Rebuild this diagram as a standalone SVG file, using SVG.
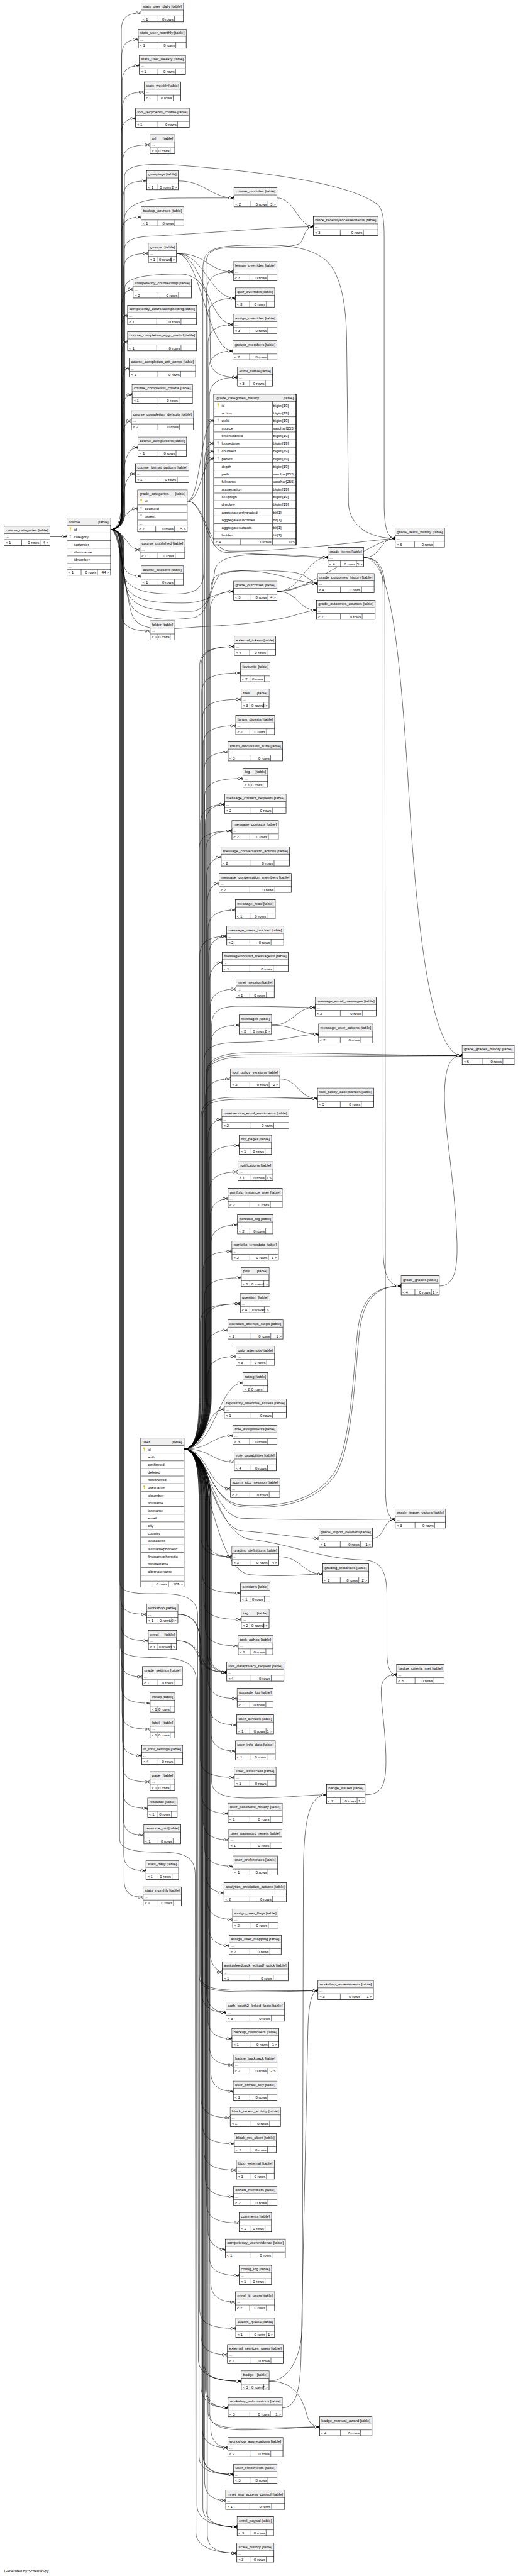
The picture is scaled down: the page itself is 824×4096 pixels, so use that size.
<svg xmlns="http://www.w3.org/2000/svg" xmlns:xlink="http://www.w3.org/1999/xlink" width="824" height="4096" viewBox="0 0 824 4096">
<style>
text{font-family:"Liberation Sans",Arial,Helvetica,sans-serif;font-size:11px;fill:#000}
.r{text-anchor:end}
.bx{fill:#fff;stroke:#000;stroke-width:1.3}
.big{stroke-width:2.6}
.hd{fill:#efefef}
.ln{fill:none;stroke:#000;stroke-width:1}
.e{fill:none;stroke:#000;stroke-width:1;marker-end:url(#m)}
</style>
<defs>
<marker id="m" markerUnits="userSpaceOnUse" markerWidth="30" markerHeight="16" refX="26" refY="8" orient="auto" overflow="visible">
<path d="M17.5 8L26 3.8M17.5 8L26 8M17.5 8L26 12.2" fill="none" stroke="#000" stroke-width="1.1"/>
<circle cx="14" cy="8" r="3.3" fill="#fff" stroke="#000" stroke-width="1.1"/>
</marker>
<g id="kp"><circle cy="-2" r="2.6" fill="#e6c700"/><rect x="-.8" y="-.5" width="1.6" height="6" fill="#e6c700"/></g>
<g id="kf"><circle cy="-2" r="2.6" fill="#bbb"/><rect x="-.8" y="-.5" width="1.6" height="6" fill="#bbb"/></g>
</defs>
<rect width="824" height="4096" fill="#fff"/>
<g transform="scale(.55154 .55172)">
<g id="connectors">
<path class="e" d="M319 1526C338 1526 350 1512 350 1480L350 87.5C350 52.5 365 37.5 407 37.5"/>
<path class="e" d="M319 1526C338 1526 351 1512 351 1480L351 163.5C351 128.5 366 113.5 399 113.5"/>
<path class="e" d="M319 1526C338 1526 352 1512 352 1480L352 239.5C352 204.5 367 189.5 402 189.5"/>
<path class="e" d="M319 1526C338 1526 353 1512 353 1480L353 315.5C353 280.5 368 265.5 416 265.5"/>
<path class="e" d="M319 1526C338 1526 349 1512 349 1480L349 391.5C349 356.5 364 341.5 391 341.5"/>
<path class="e" d="M319 1526C338 1526 354 1512 354 1480L354 467.5C354 432.5 369 417.5 433 417.5"/>
<path class="e" d="M319 1526C338 1526 355 1512 355 1480L355 571.5C355 536.5 370 521.5 423 521.5"/>
<path class="e" d="M319 1526C338 1526 350 1512 350 1480L350 675.5C350 640.5 365 625.5 407 625.5"/>
<path class="e" d="M319 1526C338 1526 356 1512 356 1480L356 780.5C356 745.5 371 730.5 428 730.5"/>
<path class="e" d="M319 1526C338 1526 351 1512 351 1480L351 883.5C351 848.5 366 833.5 384 833.5"/>
<path class="e" d="M319 1526C338 1526 349 1512 349 1480L349 959.5C349 924.5 356 909.5 368 909.5"/>
<path class="e" d="M319 1526C338 1526 350 1512 350 1480L350 1035.5C350 1000.5 357 985.5 368 985.5"/>
<path class="e" d="M319 1526C338 1526 352 1512 352 1480L352 1111.5C352 1076.5 360 1061.5 373 1061.5"/>
<path class="e" d="M319 1526C338 1526 353 1512 353 1480L353 1187.5C353 1152.5 365 1137.5 381 1137.5"/>
<path class="e" d="M319 1526C338 1526 354 1512 354 1480L354 1263.5C354 1228.5 365 1213.5 379 1213.5"/>
<path class="e" d="M319 1526C345 1526 352 1480 354 1400C356 1320 370 1289.5 398 1289.5"/>
<path class="e" d="M319 1526C345 1526 355 1490 356 1440C358 1385 372 1365.5 391 1365.5"/>
<path class="e" d="M319 1526C350 1526 355 1466 397 1466"/>
<path class="e" d="M319 1526C360 1526 365 1584.5 404 1584.5"/>
<path class="e" d="M319 1526C350 1526 355 1600 358 1630C361 1652 380 1660.5 407 1660.5"/>
<path class="e" d="M319 1526C345 1526 352 1560 352 1620L352 1770C352 1800 370 1818.5 433 1818.5"/>
<path class="e" d="M319 1526C338 1526 348 1540 348 1572L348 4602.5C348 4637.5 363 4652.5 423 4652.5"/>
<path class="e" d="M319 1526C338 1526 349 1540 349 1572L349 4678.5C349 4713.5 364 4728.5 428 4728.5"/>
<path class="e" d="M319 1526C338 1526 350 1540 350 1572L350 4782.5C350 4817.5 365 4832.5 411 4832.5"/>
<path class="e" d="M319 1526C338 1526 351 1540 351 1572L351 4858.5C351 4893.5 366 4908.5 433 4908.5"/>
<path class="e" d="M319 1526C338 1526 352 1540 352 1572L352 4933.5C352 4968.5 367 4983.5 433 4983.5"/>
<path class="e" d="M319 1526C338 1526 353 1540 353 1572L353 5009.5C353 5044.5 368 5059.5 409 5059.5"/>
<path class="e" d="M319 1526C338 1526 354 1540 354 1572L354 5085.5C354 5120.5 369 5135.5 433 5135.5"/>
<path class="e" d="M319 1526C338 1526 355 1540 355 1572L355 5161.5C355 5196.5 370 5211.5 426 5211.5"/>
<path class="e" d="M319 1526C338 1526 356 1540 356 1572L356 5238.5C356 5273.5 371 5288.5 415 5288.5"/>
<path class="e" d="M319 1526C338 1526 357 1540 357 1572L357 5341.5C357 5376.5 372 5391.5 421 5391.5"/>
<path class="e" d="M319 1526C338 1526 358 1540 358 1572L358 5417.5C358 5452.5 373 5467.5 413 5467.5"/>
<path class="e" d="M319 1526C338 1526 357 1512 357 1480L357 640C357 585 420 572 500 571C580 570.5 640 570.5 675 570.5"/>
<path class="e" d="M319 1526C338 1526 358 1512 358 1480L358 725C358 692 380 682 450 680C600 672 800 653.5 904 653.5"/>
<path class="e" d="M319 1526C338 1526 359 1512 359 1480L359 510C359 480 400 470 500 475C700 490 1000 520 1090 590C1108 610 1108 650 1108 700L1108 1450C1108 1530 1120 1551.5 1140 1551.5"/>
<path class="e" d="M319 1526C340 1526 345 1560 350 1640C360 1700 420 1712 500 1712C560 1712 585 1700 588 1650L590 1360C592 1320 600 1300 617 1300"/>
<path class="e" d="M319 1526C345 1526 350 1600 360 1680C375 1735 450 1738 530 1738C600 1738 620 1704.5 674 1704.5"/>
<path class="e" d="M319 1526C345 1526 350 1620 365 1700C380 1755 450 1762 550 1762C600 1762 612 1700 620 1640C635 1600 700 1596 800 1598C880 1600 920 1606.5 946 1606.5"/>
<path class="e" d="M319 1526C345 1526 352 1640 372 1730C390 1790 480 1790 560 1780C600 1772 605 1700 630 1660C660 1640 760 1640 850 1650C890 1658 900 1681.5 916 1681.5"/>
<path class="e" d="M319 1526C345 1526 354 1680 380 1770C400 1830 500 1810 600 1805C700 1800 800 1790 860 1770C890 1762 900 1758.5 913 1758.5"/>
<path class="e" d="M319 1526C338 1526 360 1512 360 1480L360 830C360 800 420 790 520 790C570 790 600 830 605 900L607 1040C608 1075 640 1087.5 685 1087.5"/>
<path class="e" d="M319 1526C338 1526 346 1540 346 1572L346 4560C346 4588 380 4594 450 4593C520 4592 566 4600 570 4650L572 6800C573 6845 620 6862.5 696 6862.5"/>
<path class="e" d="M319 1526C338 1526 347 1540 347 1572L347 4745C347 4770 380 4777 450 4777C520 4777 564 4790 566 4840L568 7220C569 7265 620 7282.5 684 7282.5"/>
<path class="e" d="M319 1526C338 1526 345 1540 345 1572L345 5300C345 5328 380 5338 460 5338C530 5338 561 5350 563 5400L565 7300C566 7340 620 7358.5 683 7358.5"/>
<path class="e" d="M144 1547H193"/>
<path class="e" d="M540 1444C578 1444 578 1212 617 1212"/>
<path class="e" d="M540 1444C580 1444 582 1322 617 1322"/>
<path class="e" d="M540 1444C590 1444 595 1590 650 1592C750 1596 880 1606.5 946 1606.5"/>
<path class="e" d="M540 1444C592 1444 598 1585 660 1588C800 1592 1050 1560 1140 1551.5"/>
<path class="e" d="M799 1704.5C860 1704.5 860 1681.5 916 1681.5"/>
<path class="e" d="M799 1704.5C860 1704.5 860 1758.5 913 1758.5"/>
<path class="e" d="M799 1704.5C870 1704.5 880 1606.5 946 1606.5"/>
<path class="e" d="M799 1704.5C900 1704.5 1060 1560 1140 1551.5"/>
<path class="e" d="M1049 1607C1100 1607 1095 1551.5 1140 1551.5"/>
<path class="e" d="M1049 1607C1090 1607 1105 1640 1105 1700L1105 3600C1105 3670 1120 3706.5 1157 3706.5"/>
<path class="e" d="M1049 1607C1094 1607 1110 1640 1110 1700L1112 4300C1113 4350 1120 4378.5 1140 4378.5"/>
<path class="e" d="M1049 1607C1120 1607 1150 1800 1180 2300C1210 2800 1260 3042.5 1333 3042.5"/>
<path class="e" d="M1267 3706.5C1310 3706.5 1320 3660 1318 3580C1312 3400 1280 3250 1282 3150C1284 3070 1300 3042.5 1333 3042.5"/>
<path class="e" d="M1074 4433.5C1110 4433.5 1105 4378.5 1140 4378.5"/>
<path class="e" d="M514 521.5C590 521.5 610 570.5 675 570.5"/>
<path class="e" d="M799 570.5C850 570.5 860 653.5 904 653.5"/>
<path class="e" d="M509 730.5C600 730.5 600 783.5 673 783.5"/>
<path class="e" d="M509 730.5C590 730.5 605 859.5 679 859.5"/>
<path class="e" d="M509 730.5C585 730.5 600 935.5 673 935.5"/>
<path class="e" d="M509 730.5C580 730.5 595 1011.5 672 1011.5"/>
<path class="e" d="M783 2954.5C850 2954.5 850 2903.5 909 2903.5"/>
<path class="e" d="M783 2954.5C850 2954.5 860 2980.5 919 2980.5"/>
<path class="e" d="M807 3109.5C860 3109.5 860 3165.5 916 3165.5"/>
<path class="e" d="M804 4486.5C870 4486.5 870 4536.5 931 4536.5"/>
<path class="e" d="M776 6862.5C830 6862.5 870 6800 872 6700L875 5400C876 5250 890 5172.5 942 5172.5"/>
<path class="e" d="M776 6862.5C840 6862.5 870 6900 885 6960C892 6985 905 6994.5 922 6994.5"/>
<path class="e" d="M1053 5172.5C1100 5172.5 1115 5150 1113 5060C1110 4950 1090 4870 1105 4845C1115 4830 1128 4826.5 1144 4826.5"/>
<path class="e" d="M814 6939.5C850 6939.5 865 6900 868 6800L888 5850C890 5770 900 5737.5 917 5737.5"/>
<path class="e" d="M513 4652.5C560 4652.5 575 4680 578 4740L580 6880C581 6920 610 6939.5 658 6939.5"/>
<path class="e" d="M513 4652.5C562 4652.5 577 4690 580 4750L583 7000C584 7040 615 7054.5 657 7054.5"/>
<path class="e" d="M509 4728.5C560 4728.5 582 4760 584 4820L586 7080C587 7115 620 7131.5 674 7131.5"/>
<path class="e" d="M509 4728.5C558 4728.5 580 4765 582 4830L585 7230C586 7265 625 7282.5 684 7282.5"/>
<path class="e" d="M531 4176C565 4176 596 4116 596 4026L596 838.5C596 801.5 621 783.5 673 783.5"/>
<path class="e" d="M531 4176C565 4176 598 4116 598 4026L598 914.5C598 877.5 623 859.5 679 859.5"/>
<path class="e" d="M531 4176C565 4176 600 4116 600 4026L600 990.5C600 953.5 625 935.5 673 935.5"/>
<path class="e" d="M531 4176C565 4176 602 4116 602 4026L602 1066.5C602 1029.5 627 1011.5 672 1011.5"/>
<path class="e" d="M531 4176C565 4176 604 4116 604 4026L604 1142.5C604 1105.5 629 1087.5 685 1087.5"/>
<path class="e" d="M531 4176C565 4176 590 4116 590 4026L590 1333C590 1296 600 1278 617 1278"/>
<path class="e" d="M531 4176C565 4176 594 4116 594 4026L594 765C594 728 610 716 660 714C760 712 850 716 866 700C878 688 878 653.5 904 653.5"/>
<path class="e" d="M531 4176C565 4176 606 4116 606 4026L606 1759.5C606 1722.5 631 1704.5 674 1704.5"/>
<path class="e" d="M531 4176C565 4176 608 4116 608 4026L608 1700C608 1660 630 1645 700 1645C800 1645 860 1681.5 916 1681.5"/>
<path class="e" d="M531 4176C565 4176 585 4116 585 4026L585 780C585 730 600 712 680 708C800 702 900 705 950 760C990 810 1000 900 1000 1000L1005 1450C1008 1520 1070 1551.5 1140 1551.5"/>
<path class="e" d="M531 4176C565 4176 576 4116 576 4026L576 1918.5C576 1881.5 601 1863.5 676 1863.5"/>
<path class="e" d="M531 4176C565 4176 580 4116 580 4026L580 1918.5C580 1881.5 605 1863.5 676 1863.5"/>
<path class="e" d="M531 4176C565 4176 582 4116 582 4026L582 1994.5C582 1957.5 607 1939.5 694 1939.5"/>
<path class="e" d="M531 4176C565 4176 584 4116 584 4026L584 2070.5C584 2033.5 609 2015.5 696 2015.5"/>
<path class="e" d="M531 4176C565 4176 586 4116 586 4026L586 2146.5C586 2109.5 611 2091.5 680 2091.5"/>
<path class="e" d="M531 4176C565 4176 588 4116 588 4026L588 2222.5C588 2185.5 613 2167.5 658 2167.5"/>
<path class="e" d="M531 4176C565 4176 590 4116 590 4026L590 2298.5C590 2261.5 615 2243.5 701 2243.5"/>
<path class="e" d="M531 4176C565 4176 578 4116 578 4026L578 2373.5C578 2336.5 603 2318.5 648 2318.5"/>
<path class="e" d="M531 4176C565 4176 592 4116 592 4026L592 2373.5C592 2336.5 617 2318.5 648 2318.5"/>
<path class="e" d="M531 4176C565 4176 574 4116 574 4026L574 2449.5C574 2412.5 599 2394.5 669 2394.5"/>
<path class="e" d="M531 4176C565 4176 594 4116 594 4026L594 2449.5C594 2412.5 619 2394.5 669 2394.5"/>
<path class="e" d="M531 4176C565 4176 596 4116 596 4026L596 2525.5C596 2488.5 621 2470.5 638 2470.5"/>
<path class="e" d="M531 4176C565 4176 598 4116 598 4026L598 2601.5C598 2564.5 615 2546.5 632 2546.5"/>
<path class="e" d="M531 4176C565 4176 600 4116 600 4026L600 2677.5C600 2640.5 625 2622.5 679 2622.5"/>
<path class="e" d="M531 4176C565 4176 576 4116 576 4026L576 2753.5C576 2716.5 601 2698.5 654 2698.5"/>
<path class="e" d="M531 4176C565 4176 602 4116 602 4026L602 2753.5C602 2716.5 627 2698.5 654 2698.5"/>
<path class="e" d="M531 4176C565 4176 604 4116 604 4026L604 2829.5C604 2792.5 625 2774.5 641 2774.5"/>
<path class="e" d="M531 4176C565 4176 606 4116 606 4026L606 2905.5C606 2868.5 631 2850.5 681 2850.5"/>
<path class="e" d="M531 4176C565 4176 608 4116 608 4026L608 3009.5C608 2972.5 633 2954.5 690 2954.5"/>
<path class="e" d="M531 4176C565 4176 610 4116 610 4026L610 2960C610 2915 630 2900 690 2900C790 2900 860 2903.5 909 2903.5"/>
<path class="e" d="M531 4176C565 4176 588 4116 588 4026L588 3060C588 3015 620 3004 700 3004C800 3004 870 2980.5 919 2980.5"/>
<path class="e" d="M531 4176C565 4176 592 4116 592 4026L592 3164.5C592 3127.5 617 3109.5 665 3109.5"/>
<path class="e" d="M531 4176C565 4176 580 4116 580 4026L580 3220C580 3175 610 3162 690 3162C800 3162 860 3165.5 916 3165.5"/>
<path class="e" d="M531 4176C565 4176 584 4116 584 4026L584 3220C584 3180 615 3168 700 3168C800 3168 870 3165.5 916 3165.5"/>
<path class="e" d="M531 4176C565 4176 594 4116 594 4026L594 3100C594 3060 620 3034 720 3034C900 3034 1200 3042.5 1333 3042.5"/>
<path class="e" d="M531 4176C565 4176 596 4116 596 4026L596 3100C596 3062 622 3040 720 3040C900 3040 1200 3042.5 1333 3042.5"/>
<path class="e" d="M531 4176C565 4176 598 4116 598 4026L598 3100C598 3066 624 3046 720 3046C900 3046 1200 3042.5 1333 3042.5"/>
<path class="e" d="M531 4176C565 4176 600 4116 600 4026L600 3281.5C600 3244.5 620 3226.5 640 3226.5"/>
<path class="e" d="M531 4176C565 4176 602 4116 602 4026L602 3356.5C602 3319.5 627 3301.5 690 3301.5"/>
<path class="e" d="M531 4176C565 4176 604 4116 604 4026L604 3432.5C604 3395.5 629 3377.5 686 3377.5"/>
<path class="e" d="M531 4176C565 4176 606 4116 606 4026L606 3509.5C606 3472.5 631 3454.5 658 3454.5"/>
<path class="e" d="M531 4176C565 4176 608 4116 608 4026L608 3585.5C608 3548.5 633 3530.5 685 3530.5"/>
<path class="e" d="M531 4176C565 4176 586 4116 586 4026L586 3661.5C586 3624.5 611 3606.5 669 3606.5"/>
<path class="e" d="M531 4176C565 4176 590 4116 590 4026L590 3737.5C590 3700.5 615 3682.5 696 3682.5"/>
<path class="e" d="M531 4176C600 4176 600 4332 700 4338C800 4344 900 4330 960 4250C1010 4180 1020 3950 1030 3850C1040 3740 1080 3706.5 1157 3706.5"/>
<path class="e" d="M531 4176C602 4176 604 4338 700 4343C802 4349 904 4335 965 4254C1015 4184 1025 3954 1035 3854C1045 3745 1083 3706.5 1157 3706.5"/>
<path class="e" d="M531 4176C565 4176 578 4116 578 4026L578 3812.5C578 3775.5 603 3757.5 693 3757.5"/>
<path class="e" d="M531 4176C565 4176 592 4116 592 4026L592 3812.5C592 3775.5 617 3757.5 693 3757.5"/>
<path class="e" d="M531 4176C565 4176 596 4116 596 4026L596 3888.5C596 3851.5 621 3833.5 657 3833.5"/>
<path class="e" d="M531 4176C565 4176 600 4116 600 4026L600 3964.5C600 3927.5 625 3909.5 681 3909.5"/>
<path class="e" d="M531 4176C620 4176 630 3985.5 701 3985.5"/>
<path class="e" d="M531 4176C600 4176 590 4061.5 647 4061.5"/>
<path class="e" d="M531 4176C610 4176 610 4137.5 672 4137.5"/>
<path class="e" d="M531 4176C610 4176 610 4213.5 676 4213.5"/>
<path class="e" d="M531 4176C600 4176 600 4290.5 665 4290.5"/>
<path class="e" d="M531 4176C600 4176 610 4372 700 4376C900 4382 1050 4378.5 1140 4378.5"/>
<path class="e" d="M531 4176C600 4176 612 4405 700 4412C800 4420 870 4433.5 920 4433.5"/>
<path class="e" d="M531 4176C565 4176 580 4236 580 4326L580 4431.5C580 4468.5 605 4486.5 669 4486.5"/>
<path class="e" d="M531 4176C565 4176 596 4236 596 4326L596 4431.5C596 4468.5 621 4486.5 669 4486.5"/>
<path class="e" d="M531 4176C600 4176 615 4525 720 4538C820 4546 880 4536.5 931 4536.5"/>
<path class="e" d="M531 4176C565 4176 584 4236 584 4326L584 4536.5C584 4573.5 609 4591.5 694 4591.5"/>
<path class="e" d="M531 4176C565 4176 588 4236 588 4326L588 4612.5C588 4649.5 613 4667.5 696 4667.5"/>
<path class="e" d="M531 4176C565 4176 592 4236 592 4326L592 4688.5C592 4725.5 617 4743.5 687 4743.5"/>
<path class="e" d="M531 4176C565 4176 576 4236 576 4326L576 4764.5C576 4801.5 601 4819.5 654 4819.5"/>
<path class="e" d="M531 4176C565 4176 582 4236 582 4326L582 4764.5C582 4801.5 607 4819.5 654 4819.5"/>
<path class="e" d="M531 4176C565 4176 598 4236 598 4326L598 4764.5C598 4801.5 623 4819.5 654 4819.5"/>
<path class="e" d="M531 4176C565 4176 604 4236 604 4326L604 4764.5C604 4801.5 629 4819.5 654 4819.5"/>
<path class="e" d="M531 4176C600 4176 620 4420 720 4436C850 4452 920 4492 1050 4496C1100 4498 1116 4530 1116 4600L1116 4760C1116 4805 1125 4826.5 1144 4826.5"/>
<path class="e" d="M531 4176C565 4176 600 4236 600 4326L600 4840.5C600 4877.5 625 4895.5 684 4895.5"/>
<path class="e" d="M531 4176C565 4176 604 4236 604 4326L604 4916.5C604 4953.5 629 4971.5 683 4971.5"/>
<path class="e" d="M531 4176C565 4176 608 4236 608 4326L608 4991.5C608 5028.5 633 5046.5 679 5046.5"/>
<path class="e" d="M531 4176C565 4176 578 4236 578 4326L578 5067.5C578 5104.5 603 5122.5 676 5122.5"/>
<path class="e" d="M531 4176C565 4176 610 4236 610 4326L610 5130C610 5168 640 5182 720 5182C820 5182 890 5172.5 942 5172.5"/>
<path class="e" d="M531 4176C565 4176 582 4236 582 4326L582 5171.5C582 5208.5 607 5226.5 658 5226.5"/>
<path class="e" d="M531 4176C565 4176 586 4236 586 4326L586 5247.5C586 5284.5 611 5302.5 660 5302.5"/>
<path class="e" d="M531 4176C565 4176 590 4236 590 4326L590 5323.5C590 5360.5 615 5378.5 672 5378.5"/>
<path class="e" d="M531 4176C565 4176 594 4236 594 4326L594 5400.5C594 5437.5 619 5455.5 646 5455.5"/>
<path class="e" d="M531 4176C565 4176 598 4236 598 4326L598 5476.5C598 5513.5 623 5531.5 671 5531.5"/>
<path class="e" d="M531 4176C565 4176 602 4236 602 4326L602 5552.5C602 5589.5 627 5607.5 661 5607.5"/>
<path class="e" d="M531 4176C565 4176 606 4236 606 4326L606 5628.5C606 5665.5 631 5683.5 641 5683.5"/>
<path class="e" d="M531 4176C565 4176 574 4236 574 4326L574 5690C574 5728 600 5738 680 5740C800 5742 870 5737.5 917 5737.5"/>
<path class="e" d="M531 4176C565 4176 578 4236 578 4326L578 5690C578 5724 604 5734 680 5736C800 5738 870 5737.5 917 5737.5"/>
<path class="e" d="M531 4176C565 4176 582 4236 582 4326L582 5744.5C582 5781.5 607 5799.5 652 5799.5"/>
<path class="e" d="M531 4176C565 4176 596 4236 596 4326L596 5744.5C596 5781.5 621 5799.5 652 5799.5"/>
<path class="e" d="M531 4176C565 4176 600 4236 600 4326L600 5820.5C600 5857.5 625 5875.5 669 5875.5"/>
<path class="e" d="M531 4176C565 4176 604 4236 604 4326L604 5896.5C604 5933.5 629 5951.5 673 5951.5"/>
<path class="e" d="M531 4176C565 4176 608 4236 608 4326L608 5972.5C608 6009.5 633 6027.5 673 6027.5"/>
<path class="e" d="M531 4176C565 4176 580 4236 580 4326L580 6048.5C580 6085.5 605 6103.5 664 6103.5"/>
<path class="e" d="M531 4176C565 4176 584 4236 584 4326L584 6123.5C584 6160.5 609 6178.5 676 6178.5"/>
<path class="e" d="M531 4176C565 4176 588 4236 588 4326L588 6199.5C588 6236.5 613 6254.5 682 6254.5"/>
<path class="e" d="M531 4176C565 4176 592 4236 592 4326L592 6275.5C592 6312.5 617 6330.5 674 6330.5"/>
<path class="e" d="M531 4176C565 4176 596 4236 596 4326L596 6351.5C596 6388.5 621 6406.5 690 6406.5"/>
<path class="e" d="M531 4176C565 4176 600 4236 600 4326L600 6427.5C600 6464.5 625 6482.5 650 6482.5"/>
<path class="e" d="M531 4176C565 4176 604 4236 604 4326L604 6503.5C604 6540.5 629 6558.5 690 6558.5"/>
<path class="e" d="M531 4176C565 4176 608 4236 608 4326L608 6579.5C608 6616.5 633 6634.5 679 6634.5"/>
<path class="e" d="M531 4176C565 4176 576 4236 576 4326L576 6655.5C576 6692.5 601 6710.5 680 6710.5"/>
<path class="e" d="M531 4176C565 4176 580 4236 580 4326L580 6731.5C580 6768.5 605 6786.5 656 6786.5"/>
<path class="e" d="M531 4176C565 4176 584 4236 584 4326L584 6807.5C584 6844.5 609 6862.5 696 6862.5"/>
<path class="e" d="M531 4176C565 4176 588 4236 588 4326L588 6807.5C588 6844.5 613 6862.5 696 6862.5"/>
<path class="e" d="M531 4176C565 4176 592 4236 592 4326L592 6884.5C592 6921.5 617 6939.5 658 6939.5"/>
<path class="e" d="M531 4176C565 4176 596 4236 596 4326L596 6884.5C596 6921.5 621 6939.5 658 6939.5"/>
<path class="e" d="M531 4176C565 4176 600 4236 600 4326L600 6950C600 6985 630 6998 700 6998C800 6998 870 6994.5 922 6994.5"/>
<path class="e" d="M531 4176C565 4176 604 4236 604 4326L604 6950C604 6990 634 7003 700 7003C800 7003 870 6994.5 922 6994.5"/>
<path class="e" d="M531 4176C565 4176 608 4236 608 4326L608 6999.5C608 7036.5 633 7054.5 657 7054.5"/>
<path class="e" d="M531 4176C565 4176 574 4236 574 4326L574 7076.5C574 7113.5 599 7131.5 674 7131.5"/>
<path class="e" d="M531 4176C565 4176 586 4236 586 4326L586 7076.5C586 7113.5 611 7131.5 674 7131.5"/>
<path class="e" d="M531 4176C565 4176 590 4236 590 4326L590 7151.5C590 7188.5 615 7206.5 651 7206.5"/>
<path class="e" d="M531 4176C565 4176 594 4236 594 4326L594 7227.5C594 7264.5 619 7282.5 684 7282.5"/>
<path class="e" d="M531 4176C565 4176 598 4236 598 4326L598 7303.5C598 7340.5 623 7358.5 683 7358.5"/>
</g>

<g id="course_categories" transform="translate(12 1517)"><rect class="bx" width="132" height="55"/><rect class="hd" x=".7" y=".7" width="130.6" height="20"/><path class="ln" d="M0 21H132M0 38H132M50.5 38V55M103.75 38V55"/><text x="5" y="14.5">course_categories</text><text class="r" x="127" y="14.5">[table]</text><text x="4" y="33">...</text><text x="4" y="51">&lt; 1</text><text class="r" x="100.75" y="51">0 rows</text><text class="r" x="128" y="51">4 &gt;</text></g>

<g id="course" transform="translate(193 1493)"><rect class="bx" width="126" height="165"/><rect class="hd" x=".7" y=".7" width="124.6" height="20"/><path class="ln" d="M0 21H126M0 43H126M0 65H126M0 87H126M0 109H126M0 131H126M0 148H126M41 148V165M88 148V165"/><text x="5" y="14.5">course</text><text class="r" x="120" y="14.5">[table]</text><use href="#kp" x="10" y="31"/><text x="20" y="36">id</text><use href="#kf" x="10" y="53"/><text x="20" y="58">category</text><text x="20" y="80">sortorder</text><text x="20" y="102">shortname</text><text x="20" y="124">idnumber</text><text x="4" y="143">...</text><text x="4" y="160">&lt; 1</text><text class="r" x="85" y="160">0 rows</text><text class="r" x="122" y="160">44 &gt;</text></g>

<g id="stats_user_daily" transform="translate(407 8)"><rect class="bx" width="122" height="55"/><rect class="hd" x=".7" y=".7" width="120.6" height="20"/><path class="ln" d="M0 21H122M0 38H122M45.5 38V55M96 38V55"/><text x="5" y="14.5">stats_user_daily</text><text class="r" x="117" y="14.5">[table]</text><text x="4" y="33">...</text><text x="4" y="51">&lt; 1</text><text class="r" x="93" y="51">0 rows</text></g>
<g id="stats_user_monthly" transform="translate(399 84)"><rect class="bx" width="138" height="55"/><rect class="hd" x=".7" y=".7" width="136.6" height="20"/><path class="ln" d="M0 21H138M0 38H138M53.5 38V55M108 38V55"/><text x="5" y="14.5">stats_user_monthly</text><text class="r" x="133" y="14.5">[table]</text><text x="4" y="33">...</text><text x="4" y="51">&lt; 1</text><text class="r" x="105" y="51">0 rows</text></g>
<g id="stats_user_weekly" transform="translate(402 160)"><rect class="bx" width="133" height="55"/><rect class="hd" x=".7" y=".7" width="131.6" height="20"/><path class="ln" d="M0 21H133M0 38H133M51 38V55M104.5 38V55"/><text x="5" y="14.5">stats_user_weekly</text><text class="r" x="128" y="14.5">[table]</text><text x="4" y="33">...</text><text x="4" y="51">&lt; 1</text><text class="r" x="101.5" y="51">0 rows</text></g>
<g id="stats_weekly" transform="translate(416 236)"><rect class="bx" width="105" height="55"/><rect class="hd" x=".7" y=".7" width="103.6" height="20"/><path class="ln" d="M0 21H105M0 38H105M37 38V55M83.5 38V55"/><text x="5" y="14.5">stats_weekly</text><text class="r" x="100" y="14.5">[table]</text><text x="4" y="33">...</text><text x="4" y="51">&lt; 1</text><text class="r" x="80.5" y="51">0 rows</text></g>
<g id="tool_recyclebin_course" transform="translate(391 312)"><rect class="bx" width="155" height="55"/><rect class="hd" x=".7" y=".7" width="153.6" height="20"/><path class="ln" d="M0 21H155M0 38H155M62 38V55M121 38V55"/><text x="5" y="14.5">tool_recyclebin_course</text><text class="r" x="150" y="14.5">[table]</text><text x="4" y="33">...</text><text x="4" y="51">&lt; 1</text><text class="r" x="118" y="51">0 rows</text></g>
<g id="url" transform="translate(433 388)"><rect class="bx" width="71" height="55"/><rect class="hd" x=".7" y=".7" width="69.6" height="20"/><path class="ln" d="M0 21H71M0 38H71M20 38V55M58 38V55"/><text x="5" y="14.5">url</text><text class="r" x="66" y="14.5">[table]</text><text x="4" y="33">...</text><text x="4" y="51">&lt; 1</text><text class="r" x="56" y="51">0 rows</text></g>
<g id="groupings" transform="translate(423 492)"><rect class="bx" width="91" height="55"/><rect class="hd" x=".7" y=".7" width="89.6" height="20"/><path class="ln" d="M0 21H91M0 38H91M30 38V55M73 38V55"/><text x="5" y="14.5">groupings</text><text class="r" x="86" y="14.5">[table]</text><text x="4" y="33">...</text><text x="4" y="51">&lt; 1</text><text class="r" x="70" y="51">0 rows</text><text class="r" x="87" y="51">2 &gt;</text></g>
<g id="backup_courses" transform="translate(407 596)"><rect class="bx" width="123" height="55"/><rect class="hd" x=".7" y=".7" width="121.6" height="20"/><path class="ln" d="M0 21H123M0 38H123M46 38V55M97 38V55"/><text x="5" y="14.5">backup_courses</text><text class="r" x="118" y="14.5">[table]</text><text x="4" y="33">...</text><text x="4" y="51">&lt; 1</text><text class="r" x="94" y="51">0 rows</text></g>
<g id="groups" transform="translate(428 701)"><rect class="bx" width="81" height="55"/><rect class="hd" x=".7" y=".7" width="79.6" height="20"/><path class="ln" d="M0 21H81M0 38H81M25 38V55M65.5 38V55"/><text x="5" y="14.5">groups</text><text class="r" x="76" y="14.5">[table]</text><text x="4" y="33">...</text><text x="4" y="51">&lt; 1</text><text class="r" x="63" y="51">0 rows</text><text class="r" x="77" y="51">5 &gt;</text></g>
<g id="competency_coursecomp" transform="translate(384 804)"><rect class="bx" width="168" height="55"/><rect class="hd" x=".7" y=".7" width="166.6" height="20"/><path class="ln" d="M0 21H168M0 38H168M68.5 38V55M130.75 38V55"/><text x="5" y="14.5">competency_coursecomp</text><text class="r" x="163" y="14.5">[table]</text><text x="4" y="33">...</text><text x="4" y="51">&lt; 2</text><text class="r" x="127.75" y="51">0 rows</text></g>
<g id="competency_coursecompsetting" transform="translate(368 880)"><rect class="bx" width="199" height="55"/><rect class="hd" x=".7" y=".7" width="197.6" height="20"/><path class="ln" d="M0 21H199M0 38H199M84 38V55M154 38V55"/><text x="5" y="14.5">competency_coursecompsetting</text><text class="r" x="194" y="14.5">[table]</text><text x="4" y="33">...</text><text x="4" y="51">&lt; 1</text><text class="r" x="151" y="51">0 rows</text></g>
<g id="course_completion_aggr_methd" transform="translate(368 956)"><rect class="bx" width="199" height="55"/><rect class="hd" x=".7" y=".7" width="197.6" height="20"/><path class="ln" d="M0 21H199M0 38H199M84 38V55M154 38V55"/><text x="5" y="14.5">course_completion_aggr_methd</text><text class="r" x="194" y="14.5">[table]</text><text x="4" y="33">...</text><text x="4" y="51">&lt; 1</text><text class="r" x="151" y="51">0 rows</text></g>
<g id="course_completion_crit_compl" transform="translate(373 1032)"><rect class="bx" width="191" height="55"/><rect class="hd" x=".7" y=".7" width="189.6" height="20"/><path class="ln" d="M0 21H191M0 38H191M80 38V55M148 38V55"/><text x="5" y="14.5">course_completion_crit_compl</text><text class="r" x="186" y="14.5">[table]</text><text x="4" y="33">...</text><text x="4" y="51">&lt; 1</text><text class="r" x="145" y="51">0 rows</text></g>
<g id="course_completion_criteria" transform="translate(381 1108)"><rect class="bx" width="174" height="55"/><rect class="hd" x=".7" y=".7" width="172.6" height="20"/><path class="ln" d="M0 21H174M0 38H174M71.5 38V55M135.25 38V55"/><text x="5" y="14.5">course_completion_criteria</text><text class="r" x="169" y="14.5">[table]</text><text x="4" y="33">...</text><text x="4" y="51">&lt; 1</text><text class="r" x="132.25" y="51">0 rows</text></g>
<g id="course_completion_defaults" transform="translate(379 1184)"><rect class="bx" width="179" height="55"/><rect class="hd" x=".7" y=".7" width="177.6" height="20"/><path class="ln" d="M0 21H179M0 38H179M74 38V55M139 38V55"/><text x="5" y="14.5">course_completion_defaults</text><text class="r" x="174" y="14.5">[table]</text><text x="4" y="33">...</text><text x="4" y="51">&lt; 2</text><text class="r" x="136" y="51">0 rows</text></g>
<g id="course_completions" transform="translate(398 1260)"><rect class="bx" width="140" height="55"/><rect class="hd" x=".7" y=".7" width="138.6" height="20"/><path class="ln" d="M0 21H140M0 38H140M54.5 38V55M109.75 38V55"/><text x="5" y="14.5">course_completions</text><text class="r" x="135" y="14.5">[table]</text><text x="4" y="33">...</text><text x="4" y="51">&lt; 1</text><text class="r" x="106.75" y="51">0 rows</text></g>
<g id="course_format_options" transform="translate(391 1336)"><rect class="bx" width="154" height="55"/><rect class="hd" x=".7" y=".7" width="152.6" height="20"/><path class="ln" d="M0 21H154M0 38H154M61.5 38V55M120.25 38V55"/><text x="5" y="14.5">course_format_options</text><text class="r" x="149" y="14.5">[table]</text><text x="4" y="33">...</text><text x="4" y="51">&lt; 1</text><text class="r" x="117.25" y="51">0 rows</text></g>
<g id="grade_categories" transform="translate(397 1412)"><rect class="bx" width="143" height="121"/><rect class="hd" x=".7" y=".7" width="141.6" height="20"/><path class="ln" d="M0 21H143M0 43H143M0 65H143M0 87H143M0 104H143M52 104V121M106.5 104V121"/><text x="5" y="14.5">grade_categories</text><text class="r" x="138" y="14.5">[table]</text><use href="#kp" x="10" y="31"/><text x="20" y="36">id</text><use href="#kf" x="10" y="53"/><text x="20" y="58">courseid</text><use href="#kf" x="10" y="75"/><text x="20" y="80">parent</text><text x="4" y="99">...</text><text x="4" y="116">&lt; 2</text><text class="r" x="103.5" y="116">0 rows</text><text class="r" x="139" y="116">5 &gt;</text></g>
<g id="course_published" transform="translate(404 1555)"><rect class="bx" width="129" height="55"/><rect class="hd" x=".7" y=".7" width="127.6" height="20"/><path class="ln" d="M0 21H129M0 38H129M49 38V55M101.5 38V55"/><text x="5" y="14.5">course_published</text><text class="r" x="124" y="14.5">[table]</text><text x="4" y="33">...</text><text x="4" y="51">&lt; 1</text><text class="r" x="98.5" y="51">0 rows</text></g>
<g id="course_sections" transform="translate(407 1631)"><rect class="bx" width="122" height="55"/><rect class="hd" x=".7" y=".7" width="120.6" height="20"/><path class="ln" d="M0 21H122M0 38H122M45.5 38V55M96 38V55"/><text x="5" y="14.5">course_sections</text><text class="r" x="117" y="14.5">[table]</text><text x="4" y="33">...</text><text x="4" y="51">&lt; 1</text><text class="r" x="93" y="51">0 rows</text></g>
<g id="folder" transform="translate(433 1789)"><rect class="bx" width="71" height="55"/><rect class="hd" x=".7" y=".7" width="69.6" height="20"/><path class="ln" d="M0 21H71M0 38H71M20 38V55M58 38V55"/><text x="5" y="14.5">folder</text><text class="r" x="66" y="14.5">[table]</text><text x="4" y="33">...</text><text x="4" y="51">&lt; 1</text><text class="r" x="56" y="51">0 rows</text></g>

<g id="grade_categories_history" transform="translate(617 1136)"><rect class="bx big" width="237" height="434.5"/><rect class="hd" x="1.3" y="1.3" width="234.4" height="19.4"/><path class="ln" d="M0 21H237M0 43H237M0 65H237M0 87H237M0 109H237M0 131H237M0 153H237M0 175H237M0 197H237M0 219H237M0 241H237M0 263H237M0 285H237M0 307H237M0 329H237M0 351H237M0 373H237M0 395H237M0 417H237M169 21V434.5M77 417V434.5"/><text x="7" y="14.5">grade_categories_history</text><text class="r" x="230" y="14.5">[table]</text>
<use href="#kp" x="12" y="31"/><use href="#kf" x="12" y="75"/><use href="#kf" x="12" y="141"/><use href="#kf" x="12" y="163"/><use href="#kf" x="12" y="185"/>
<text x="22" y="36">id</text><text x="22" y="58">action</text><text x="22" y="80">oldid</text><text x="22" y="102">source</text><text x="22" y="124">timemodified</text><text x="22" y="146">loggeduser</text><text x="22" y="168">courseid</text><text x="22" y="190">parent</text><text x="22" y="212">depth</text><text x="22" y="234">path</text><text x="22" y="256">fullname</text><text x="22" y="278">aggregation</text><text x="22" y="300">keephigh</text><text x="22" y="322">droplow</text><text x="22" y="344">aggregateonlygraded</text><text x="22" y="366">aggregateoutcomes</text><text x="22" y="388">aggregatesubcats</text><text x="22" y="410">hidden</text>
<text x="171" y="36">bigint[19]</text><text x="171" y="58">bigint[19]</text><text x="171" y="80">bigint[19]</text><text x="171" y="102">varchar[255]</text><text x="171" y="124">bigint[19]</text><text x="171" y="146">bigint[19]</text><text x="171" y="168">bigint[19]</text><text x="171" y="190">bigint[19]</text><text x="171" y="212">bigint[19]</text><text x="171" y="234">varchar[255]</text><text x="171" y="256">varchar[255]</text><text x="171" y="278">bigint[19]</text><text x="171" y="300">bigint[19]</text><text x="171" y="322">bigint[19]</text><text x="171" y="344">bit[1]</text><text x="171" y="366">bit[1]</text><text x="171" y="388">bit[1]</text><text x="171" y="410">bit[1]</text>
<text x="4" y="429.5">&lt; 4</text><text class="r" x="166" y="429.5">0 rows</text><text class="r" x="233" y="429.5">0 &gt;</text></g>

<g id="course_modules" transform="translate(675 541)"><rect class="bx" width="124" height="55"/><rect class="hd" x=".7" y=".7" width="122.6" height="20"/><path class="ln" d="M0 21H124M0 38H124M46.5 38V55M97.75 38V55"/><text x="5" y="14.5">course_modules</text><text class="r" x="119" y="14.5">[table]</text><text x="4" y="33">...</text><text x="4" y="51">&lt; 2</text><text class="r" x="94.75" y="51">0 rows</text><text class="r" x="120" y="51">3 &gt;</text></g>
<g id="block_recentlyaccesseditems" transform="translate(904 624)"><rect class="bx" width="186" height="55"/><rect class="hd" x=".7" y=".7" width="184.6" height="20"/><path class="ln" d="M0 21H186M0 38H186M77.5 38V55M144.25 38V55"/><text x="5" y="14.5">block_recentlyaccesseditems</text><text class="r" x="181" y="14.5">[table]</text><text x="4" y="33">...</text><text x="4" y="51">&lt; 3</text><text class="r" x="141.25" y="51">0 rows</text></g>
<g id="lesson_overrides" transform="translate(673 754)"><rect class="bx" width="126" height="55"/><rect class="hd" x=".7" y=".7" width="124.6" height="20"/><path class="ln" d="M0 21H126M0 38H126M47.5 38V55M99.25 38V55"/><text x="5" y="14.5">lesson_overrides</text><text class="r" x="121" y="14.5">[table]</text><text x="4" y="33">...</text><text x="4" y="51">&lt; 3</text><text class="r" x="96.25" y="51">0 rows</text></g>
<g id="quiz_overrides" transform="translate(679 830)"><rect class="bx" width="113" height="55"/><rect class="hd" x=".7" y=".7" width="111.6" height="20"/><path class="ln" d="M0 21H113M0 38H113M41 38V55M89.5 38V55"/><text x="5" y="14.5">quiz_overrides</text><text class="r" x="108" y="14.5">[table]</text><text x="4" y="33">...</text><text x="4" y="51">&lt; 3</text><text class="r" x="86.5" y="51">0 rows</text></g>
<g id="assign_overrides" transform="translate(673 906)"><rect class="bx" width="126" height="55"/><rect class="hd" x=".7" y=".7" width="124.6" height="20"/><path class="ln" d="M0 21H126M0 38H126M47.5 38V55M99.25 38V55"/><text x="5" y="14.5">assign_overrides</text><text class="r" x="121" y="14.5">[table]</text><text x="4" y="33">...</text><text x="4" y="51">&lt; 3</text><text class="r" x="96.25" y="51">0 rows</text></g>
<g id="groups_members" transform="translate(672 982)"><rect class="bx" width="127" height="55"/><rect class="hd" x=".7" y=".7" width="125.6" height="20"/><path class="ln" d="M0 21H127M0 38H127M48 38V55M100 38V55"/><text x="5" y="14.5">groups_members</text><text class="r" x="122" y="14.5">[table]</text><text x="4" y="33">...</text><text x="4" y="51">&lt; 2</text><text class="r" x="97" y="51">0 rows</text></g>
<g id="enrol_flatfile" transform="translate(685 1058)"><rect class="bx" width="101" height="55"/><rect class="hd" x=".7" y=".7" width="99.6" height="20"/><path class="ln" d="M0 21H101M0 38H101M35 38V55M80.5 38V55"/><text x="5" y="14.5">enrol_flatfile</text><text class="r" x="96" y="14.5">[table]</text><text x="4" y="33">...</text><text x="4" y="51">&lt; 3</text><text class="r" x="77.5" y="51">0 rows</text></g>
<g id="grade_items_history" transform="translate(1140 1522)"><rect class="bx" width="142" height="55"/><rect class="hd" x=".7" y=".7" width="140.6" height="20"/><path class="ln" d="M0 21H142M0 38H142M55.5 38V55M111.25 38V55"/><text x="5" y="14.5">grade_items_history</text><text class="r" x="137" y="14.5">[table]</text><text x="4" y="33">...</text><text x="4" y="51">&lt; 6</text><text class="r" x="108.25" y="51">0 rows</text></g>
<g id="grade_items" transform="translate(946 1578)"><rect class="bx" width="103" height="55"/><rect class="hd" x=".7" y=".7" width="101.6" height="20"/><path class="ln" d="M0 21H103M0 38H103M36 38V55M82 38V55"/><text x="5" y="14.5">grade_items</text><text class="r" x="98" y="14.5">[table]</text><text x="4" y="33">...</text><text x="4" y="51">&lt; 4</text><text class="r" x="79" y="51">0 rows</text><text class="r" x="99" y="51">5 &gt;</text></g>
<g id="grade_outcomes_history" transform="translate(916 1653)"><rect class="bx" width="163" height="55"/><rect class="hd" x=".7" y=".7" width="161.6" height="20"/><path class="ln" d="M0 21H163M0 38H163M66 38V55M127 38V55"/><text x="5" y="14.5">grade_outcomes_history</text><text class="r" x="158" y="14.5">[table]</text><text x="4" y="33">...</text><text x="4" y="51">&lt; 4</text><text class="r" x="124" y="51">0 rows</text></g>
<g id="grade_outcomes_courses" transform="translate(913 1730)"><rect class="bx" width="169" height="55"/><rect class="hd" x=".7" y=".7" width="167.6" height="20"/><path class="ln" d="M0 21H169M0 38H169M69 38V55M131.5 38V55"/><text x="5" y="14.5">grade_outcomes_courses</text><text class="r" x="164" y="14.5">[table]</text><text x="4" y="33">...</text><text x="4" y="51">&lt; 2</text><text class="r" x="128.5" y="51">0 rows</text></g>
<g id="grade_outcomes" transform="translate(674 1675)"><rect class="bx" width="125" height="55"/><rect class="hd" x=".7" y=".7" width="123.6" height="20"/><path class="ln" d="M0 21H125M0 38H125M47 38V55M98.5 38V55"/><text x="5" y="14.5">grade_outcomes</text><text class="r" x="120" y="14.5">[table]</text><text x="4" y="33">...</text><text x="4" y="51">&lt; 3</text><text class="r" x="95.5" y="51">0 rows</text><text class="r" x="121" y="51">4 &gt;</text></g>
<g id="external_tokens" transform="translate(676 1834)"><rect class="bx" width="119" height="55"/><rect class="hd" x=".7" y=".7" width="117.6" height="20"/><path class="ln" d="M0 21H119M0 38H119M44 38V55M94 38V55"/><text x="5" y="14.5">external_tokens</text><text class="r" x="114" y="14.5">[table]</text><text x="4" y="33">...</text><text x="4" y="51">&lt; 4</text><text class="r" x="91" y="51">0 rows</text></g>
<g id="favourite" transform="translate(694 1910)"><rect class="bx" width="85" height="55"/><rect class="hd" x=".7" y=".7" width="83.6" height="20"/><path class="ln" d="M0 21H85M0 38H85M27 38V55M68.5 38V55"/><text x="5" y="14.5">favourite</text><text class="r" x="80" y="14.5">[table]</text><text x="4" y="33">...</text><text x="4" y="51">&lt; 2</text><text class="r" x="65.5" y="51">0 rows</text></g>
<g id="files" transform="translate(696 1986)"><rect class="bx" width="80" height="55"/><rect class="hd" x=".7" y=".7" width="78.6" height="20"/><path class="ln" d="M0 21H80M0 38H80M24.5 38V55M64.75 38V55"/><text x="5" y="14.5">files</text><text class="r" x="75" y="14.5">[table]</text><text x="4" y="33">...</text><text x="4" y="51">&lt; 3</text><text class="r" x="61.75" y="51">0 rows</text><text class="r" x="76" y="51">3 &gt;</text></g>
<g id="forum_digests" transform="translate(680 2062)"><rect class="bx" width="112" height="55"/><rect class="hd" x=".7" y=".7" width="110.6" height="20"/><path class="ln" d="M0 21H112M0 38H112M40.5 38V55M88.75 38V55"/><text x="5" y="14.5">forum_digests</text><text class="r" x="107" y="14.5">[table]</text><text x="4" y="33">...</text><text x="4" y="51">&lt; 2</text><text class="r" x="85.75" y="51">0 rows</text></g>
<g id="forum_discussion_subs" transform="translate(658 2138)"><rect class="bx" width="157" height="55"/><rect class="hd" x=".7" y=".7" width="155.6" height="20"/><path class="ln" d="M0 21H157M0 38H157M63 38V55M122.5 38V55"/><text x="5" y="14.5">forum_discussion_subs</text><text class="r" x="152" y="14.5">[table]</text><text x="4" y="33">...</text><text x="4" y="51">&lt; 3</text><text class="r" x="119.5" y="51">0 rows</text></g>
<g id="log" transform="translate(701 2214)"><rect class="bx" width="71" height="55"/><rect class="hd" x=".7" y=".7" width="69.6" height="20"/><path class="ln" d="M0 21H71M0 38H71M20 38V55M58 38V55"/><text x="5" y="14.5">log</text><text class="r" x="66" y="14.5">[table]</text><text x="4" y="33">...</text><text x="4" y="51">&lt; 1</text><text class="r" x="56" y="51">0 rows</text></g>
<g id="message_contact_requests" transform="translate(648 2289)"><rect class="bx" width="177" height="55"/><rect class="hd" x=".7" y=".7" width="175.6" height="20"/><path class="ln" d="M0 21H177M0 38H177M73 38V55M137.5 38V55"/><text x="5" y="14.5">message_contact_requests</text><text class="r" x="172" y="14.5">[table]</text><text x="4" y="33">...</text><text x="4" y="51">&lt; 2</text><text class="r" x="134.5" y="51">0 rows</text></g>
<g id="message_contacts" transform="translate(669 2365)"><rect class="bx" width="134" height="55"/><rect class="hd" x=".7" y=".7" width="132.6" height="20"/><path class="ln" d="M0 21H134M0 38H134M51.5 38V55M105.25 38V55"/><text x="5" y="14.5">message_contacts</text><text class="r" x="129" y="14.5">[table]</text><text x="4" y="33">...</text><text x="4" y="51">&lt; 2</text><text class="r" x="102.25" y="51">0 rows</text></g>
<g id="message_conversation_actions" transform="translate(638 2441)"><rect class="bx" width="197" height="55"/><rect class="hd" x=".7" y=".7" width="195.6" height="20"/><path class="ln" d="M0 21H197M0 38H197M83 38V55M152.5 38V55"/><text x="5" y="14.5">message_conversation_actions</text><text class="r" x="192" y="14.5">[table]</text><text x="4" y="33">...</text><text x="4" y="51">&lt; 2</text><text class="r" x="149.5" y="51">0 rows</text></g>
<g id="message_conversation_members" transform="translate(632 2517)"><rect class="bx" width="208" height="55"/><rect class="hd" x=".7" y=".7" width="206.6" height="20"/><path class="ln" d="M0 21H208M0 38H208M88.5 38V55M160.75 38V55"/><text x="5" y="14.5">message_conversation_members</text><text class="r" x="203" y="14.5">[table]</text><text x="4" y="33">...</text><text x="4" y="51">&lt; 2</text><text class="r" x="157.75" y="51">0 rows</text></g>
<g id="message_read" transform="translate(679 2593)"><rect class="bx" width="115" height="55"/><rect class="hd" x=".7" y=".7" width="113.6" height="20"/><path class="ln" d="M0 21H115M0 38H115M42 38V55M91 38V55"/><text x="5" y="14.5">message_read</text><text class="r" x="110" y="14.5">[table]</text><text x="4" y="33">...</text><text x="4" y="51">&lt; 1</text><text class="r" x="88" y="51">0 rows</text></g>
<g id="message_users_blocked" transform="translate(654 2669)"><rect class="bx" width="164" height="55"/><rect class="hd" x=".7" y=".7" width="162.6" height="20"/><path class="ln" d="M0 21H164M0 38H164M66.5 38V55M127.75 38V55"/><text x="5" y="14.5">message_users_blocked</text><text class="r" x="159" y="14.5">[table]</text><text x="4" y="33">...</text><text x="4" y="51">&lt; 2</text><text class="r" x="124.75" y="51">0 rows</text></g>
<g id="messageinbound_messagelist" transform="translate(641 2745)"><rect class="bx" width="190" height="55"/><rect class="hd" x=".7" y=".7" width="188.6" height="20"/><path class="ln" d="M0 21H190M0 38H190M79.5 38V55M147.25 38V55"/><text x="5" y="14.5">messageinbound_messagelist</text><text class="r" x="185" y="14.5">[table]</text><text x="4" y="33">...</text><text x="4" y="51">&lt; 1</text><text class="r" x="144.25" y="51">0 rows</text></g>
<g id="mnet_session" transform="translate(681 2821)"><rect class="bx" width="110" height="55"/><rect class="hd" x=".7" y=".7" width="108.6" height="20"/><path class="ln" d="M0 21H110M0 38H110M39.5 38V55M87.25 38V55"/><text x="5" y="14.5">mnet_session</text><text class="r" x="105" y="14.5">[table]</text><text x="4" y="33">...</text><text x="4" y="51">&lt; 1</text><text class="r" x="84.25" y="51">0 rows</text></g>
<g id="messages" transform="translate(690 2925)"><rect class="bx" width="93" height="55"/><rect class="hd" x=".7" y=".7" width="91.6" height="20"/><path class="ln" d="M0 21H93M0 38H93M31 38V55M74.5 38V55"/><text x="5" y="14.5">messages</text><text class="r" x="88" y="14.5">[table]</text><text x="4" y="33">...</text><text x="4" y="51">&lt; 2</text><text class="r" x="71.5" y="51">0 rows</text><text class="r" x="89" y="51">2 &gt;</text></g>
<g id="message_email_messages" transform="translate(909 2874)"><rect class="bx" width="176" height="55"/><rect class="hd" x=".7" y=".7" width="174.6" height="20"/><path class="ln" d="M0 21H176M0 38H176M72.5 38V55M136.75 38V55"/><text x="5" y="14.5">message_email_messages</text><text class="r" x="171" y="14.5">[table]</text><text x="4" y="33">...</text><text x="4" y="51">&lt; 3</text><text class="r" x="133.75" y="51">0 rows</text></g>
<g id="message_user_actions" transform="translate(919 2951)"><rect class="bx" width="156" height="55"/><rect class="hd" x=".7" y=".7" width="154.6" height="20"/><path class="ln" d="M0 21H156M0 38H156M62.5 38V55M121.75 38V55"/><text x="5" y="14.5">message_user_actions</text><text class="r" x="151" y="14.5">[table]</text><text x="4" y="33">...</text><text x="4" y="51">&lt; 2</text><text class="r" x="118.75" y="51">0 rows</text></g>
<g id="grade_grades_history" transform="translate(1333 3013)"><rect class="bx" width="150" height="55"/><rect class="hd" x=".7" y=".7" width="148.6" height="20"/><path class="ln" d="M0 21H150M0 38H150M59.5 38V55M117.25 38V55"/><text x="5" y="14.5">grade_grades_history</text><text class="r" x="145" y="14.5">[table]</text><text x="4" y="33">...</text><text x="4" y="51">&lt; 6</text><text class="r" x="114.25" y="51">0 rows</text></g>
<g id="tool_policy_versions" transform="translate(665 3080)"><rect class="bx" width="142" height="55"/><rect class="hd" x=".7" y=".7" width="140.6" height="20"/><path class="ln" d="M0 21H142M0 38H142M55.5 38V55M111.25 38V55"/><text x="5" y="14.5">tool_policy_versions</text><text class="r" x="137" y="14.5">[table]</text><text x="4" y="33">...</text><text x="4" y="51">&lt; 2</text><text class="r" x="108.25" y="51">0 rows</text><text class="r" x="138" y="51">2 &gt;</text></g>
<g id="tool_policy_acceptances" transform="translate(916 3136)"><rect class="bx" width="162" height="55"/><rect class="hd" x=".7" y=".7" width="160.6" height="20"/><path class="ln" d="M0 21H162M0 38H162M65.5 38V55M126.25 38V55"/><text x="5" y="14.5">tool_policy_acceptances</text><text class="r" x="157" y="14.5">[table]</text><text x="4" y="33">...</text><text x="4" y="51">&lt; 3</text><text class="r" x="123.25" y="51">0 rows</text></g>
<g id="mnetservice_enrol_enrolments" transform="translate(640 3197)"><rect class="bx" width="193" height="55"/><rect class="hd" x=".7" y=".7" width="191.6" height="20"/><path class="ln" d="M0 21H193M0 38H193M81 38V55M149.5 38V55"/><text x="5" y="14.5">mnetservice_enrol_enrolments</text><text class="r" x="188" y="14.5">[table]</text><text x="4" y="33">...</text><text x="4" y="51">&lt; 2</text><text class="r" x="146.5" y="51">0 rows</text></g>
<g id="my_pages" transform="translate(690 3272)"><rect class="bx" width="93" height="55"/><rect class="hd" x=".7" y=".7" width="91.6" height="20"/><path class="ln" d="M0 21H93M0 38H93M31 38V55M74.5 38V55"/><text x="5" y="14.5">my_pages</text><text class="r" x="88" y="14.5">[table]</text><text x="4" y="33">...</text><text x="4" y="51">&lt; 1</text><text class="r" x="71.5" y="51">0 rows</text></g>
<g id="notifications" transform="translate(686 3348)"><rect class="bx" width="101" height="55"/><rect class="hd" x=".7" y=".7" width="99.6" height="20"/><path class="ln" d="M0 21H101M0 38H101M35 38V55M80.5 38V55"/><text x="5" y="14.5">notifications</text><text class="r" x="96" y="14.5">[table]</text><text x="4" y="33">...</text><text x="4" y="51">&lt; 1</text><text class="r" x="77.5" y="51">0 rows</text><text class="r" x="97" y="51">1 &gt;</text></g>
<g id="portfolio_instance_user" transform="translate(658 3425)"><rect class="bx" width="156" height="55"/><rect class="hd" x=".7" y=".7" width="154.6" height="20"/><path class="ln" d="M0 21H156M0 38H156M62.5 38V55M121.75 38V55"/><text x="5" y="14.5">portfolio_instance_user</text><text class="r" x="151" y="14.5">[table]</text><text x="4" y="33">...</text><text x="4" y="51">&lt; 2</text><text class="r" x="118.75" y="51">0 rows</text></g>
<g id="portfolio_log" transform="translate(685 3501)"><rect class="bx" width="102" height="55"/><rect class="hd" x=".7" y=".7" width="100.6" height="20"/><path class="ln" d="M0 21H102M0 38H102M35.5 38V55M81.25 38V55"/><text x="5" y="14.5">portfolio_log</text><text class="r" x="97" y="14.5">[table]</text><text x="4" y="33">...</text><text x="4" y="51">&lt; 2</text><text class="r" x="78.25" y="51">0 rows</text></g>
<g id="portfolio_tempdata" transform="translate(669 3577)"><rect class="bx" width="134" height="55"/><rect class="hd" x=".7" y=".7" width="132.6" height="20"/><path class="ln" d="M0 21H134M0 38H134M51.5 38V55M105.25 38V55"/><text x="5" y="14.5">portfolio_tempdata</text><text class="r" x="129" y="14.5">[table]</text><text x="4" y="33">...</text><text x="4" y="51">&lt; 2</text><text class="r" x="102.25" y="51">0 rows</text><text class="r" x="130" y="51">1 &gt;</text></g>
<g id="post" transform="translate(696 3653)"><rect class="bx" width="80" height="55"/><rect class="hd" x=".7" y=".7" width="78.6" height="20"/><path class="ln" d="M0 21H80M0 38H80M24.5 38V55M64.75 38V55"/><text x="5" y="14.5">post</text><text class="r" x="75" y="14.5">[table]</text><text x="4" y="33">...</text><text x="4" y="51">&lt; 1</text><text class="r" x="61.75" y="51">0 rows</text><text class="r" x="76" y="51">1 &gt;</text></g>
<g id="grade_grades" transform="translate(1157 3677)"><rect class="bx" width="110" height="55"/><rect class="hd" x=".7" y=".7" width="108.6" height="20"/><path class="ln" d="M0 21H110M0 38H110M39.5 38V55M87.25 38V55"/><text x="5" y="14.5">grade_grades</text><text class="r" x="105" y="14.5">[table]</text><text x="4" y="33">...</text><text x="4" y="51">&lt; 4</text><text class="r" x="84.25" y="51">0 rows</text><text class="r" x="106" y="51">1 &gt;</text></g>
<g id="question" transform="translate(693 3728)"><rect class="bx" width="86" height="55"/><rect class="hd" x=".7" y=".7" width="84.6" height="20"/><path class="ln" d="M0 21H86M0 38H86M27.5 38V55M69.25 38V55"/><text x="5" y="14.5">question</text><text class="r" x="81" y="14.5">[table]</text><text x="4" y="33">...</text><text x="4" y="51">&lt; 4</text><text class="r" x="66.25" y="51">0 rows</text><text class="r" x="82" y="51">28 &gt;</text></g>
<g id="question_attempt_steps" transform="translate(657 3804)"><rect class="bx" width="159" height="55"/><rect class="hd" x=".7" y=".7" width="157.6" height="20"/><path class="ln" d="M0 21H159M0 38H159M64 38V55M124 38V55"/><text x="5" y="14.5">question_attempt_steps</text><text class="r" x="154" y="14.5">[table]</text><text x="4" y="33">...</text><text x="4" y="51">&lt; 2</text><text class="r" x="121" y="51">0 rows</text><text class="r" x="155" y="51">1 &gt;</text></g>
<g id="quiz_attempts" transform="translate(681 3880)"><rect class="bx" width="111" height="55"/><rect class="hd" x=".7" y=".7" width="109.6" height="20"/><path class="ln" d="M0 21H111M0 38H111M40 38V55M88 38V55"/><text x="5" y="14.5">quiz_attempts</text><text class="r" x="106" y="14.5">[table]</text><text x="4" y="33">...</text><text x="4" y="51">&lt; 3</text><text class="r" x="85" y="51">0 rows</text></g>
<g id="rating" transform="translate(701 3956)"><rect class="bx" width="71" height="55"/><rect class="hd" x=".7" y=".7" width="69.6" height="20"/><path class="ln" d="M0 21H71M0 38H71M20 38V55M58 38V55"/><text x="5" y="14.5">rating</text><text class="r" x="66" y="14.5">[table]</text><text x="4" y="33">...</text><text x="4" y="51">&lt; 2</text><text class="r" x="56" y="51">0 rows</text></g>
<g id="repository_onedrive_access" transform="translate(647 4032)"><rect class="bx" width="179" height="55"/><rect class="hd" x=".7" y=".7" width="177.6" height="20"/><path class="ln" d="M0 21H179M0 38H179M74 38V55M139 38V55"/><text x="5" y="14.5">repository_onedrive_access</text><text class="r" x="174" y="14.5">[table]</text><text x="4" y="33">...</text><text x="4" y="51">&lt; 1</text><text class="r" x="136" y="51">0 rows</text></g>
<g id="role_assignments" transform="translate(672 4108)"><rect class="bx" width="127" height="55"/><rect class="hd" x=".7" y=".7" width="125.6" height="20"/><path class="ln" d="M0 21H127M0 38H127M48 38V55M100 38V55"/><text x="5" y="14.5">role_assignments</text><text class="r" x="122" y="14.5">[table]</text><text x="4" y="33">...</text><text x="4" y="51">&lt; 3</text><text class="r" x="97" y="51">0 rows</text></g>
<g id="role_capabilities" transform="translate(676 4184)"><rect class="bx" width="121" height="55"/><rect class="hd" x=".7" y=".7" width="119.6" height="20"/><path class="ln" d="M0 21H121M0 38H121M45 38V55M95.5 38V55"/><text x="5" y="14.5">role_capabilities</text><text class="r" x="116" y="14.5">[table]</text><text x="4" y="33">...</text><text x="4" y="51">&lt; 4</text><text class="r" x="92.5" y="51">0 rows</text></g>
<g id="scorm_aicc_session" transform="translate(665 4261)"><rect class="bx" width="142" height="55"/><rect class="hd" x=".7" y=".7" width="140.6" height="20"/><path class="ln" d="M0 21H142M0 38H142M55.5 38V55M111.25 38V55"/><text x="5" y="14.5">scorm_aicc_session</text><text class="r" x="137" y="14.5">[table]</text><text x="4" y="33">...</text><text x="4" y="51">&lt; 2</text><text class="r" x="108.25" y="51">0 rows</text></g>
<g id="grade_import_values" transform="translate(1140 4349)"><rect class="bx" width="145" height="55"/><rect class="hd" x=".7" y=".7" width="143.6" height="20"/><path class="ln" d="M0 21H145M0 38H145M57 38V55M113.5 38V55"/><text x="5" y="14.5">grade_import_values</text><text class="r" x="140" y="14.5">[table]</text><text x="4" y="33">...</text><text x="4" y="51">&lt; 3</text><text class="r" x="110.5" y="51">0 rows</text></g>
<g id="grade_import_newitem" transform="translate(920 4404)"><rect class="bx" width="154" height="55"/><rect class="hd" x=".7" y=".7" width="152.6" height="20"/><path class="ln" d="M0 21H154M0 38H154M61.5 38V55M120.25 38V55"/><text x="5" y="14.5">grade_import_newitem</text><text class="r" x="149" y="14.5">[table]</text><text x="4" y="33">...</text><text x="4" y="51">&lt; 1</text><text class="r" x="117.25" y="51">0 rows</text><text class="r" x="150" y="51">1 &gt;</text></g>
<g id="grading_definitions" transform="translate(669 4457)"><rect class="bx" width="135" height="55"/><rect class="hd" x=".7" y=".7" width="133.6" height="20"/><path class="ln" d="M0 21H135M0 38H135M52 38V55M106 38V55"/><text x="5" y="14.5">grading_definitions</text><text class="r" x="130" y="14.5">[table]</text><text x="4" y="33">...</text><text x="4" y="51">&lt; 3</text><text class="r" x="103" y="51">0 rows</text><text class="r" x="131" y="51">4 &gt;</text></g>
<g id="grading_instances" transform="translate(931 4507)"><rect class="bx" width="132" height="55"/><rect class="hd" x=".7" y=".7" width="130.6" height="20"/><path class="ln" d="M0 21H132M0 38H132M50.5 38V55M103.75 38V55"/><text x="5" y="14.5">grading_instances</text><text class="r" x="127" y="14.5">[table]</text><text x="4" y="33">...</text><text x="4" y="51">&lt; 2</text><text class="r" x="100.75" y="51">0 rows</text><text class="r" x="128" y="51">2 &gt;</text></g>
<g id="sessions" transform="translate(694 4562)"><rect class="bx" width="85" height="55"/><rect class="hd" x=".7" y=".7" width="83.6" height="20"/><path class="ln" d="M0 21H85M0 38H85M27 38V55M68.5 38V55"/><text x="5" y="14.5">sessions</text><text class="r" x="80" y="14.5">[table]</text><text x="4" y="33">...</text><text x="4" y="51">&lt; 1</text><text class="r" x="65.5" y="51">0 rows</text></g>
<g id="tag" transform="translate(696 4638)"><rect class="bx" width="80" height="55"/><rect class="hd" x=".7" y=".7" width="78.6" height="20"/><path class="ln" d="M0 21H80M0 38H80M24.5 38V55M64.75 38V55"/><text x="5" y="14.5">tag</text><text class="r" x="75" y="14.5">[table]</text><text x="4" y="33">...</text><text x="4" y="51">&lt; 2</text><text class="r" x="61.75" y="51">0 rows</text><text class="r" x="76" y="51">3 &gt;</text></g>
<g id="task_adhoc" transform="translate(687 4714)"><rect class="bx" width="100" height="55"/><rect class="hd" x=".7" y=".7" width="98.6" height="20"/><path class="ln" d="M0 21H100M0 38H100M34.5 38V55M79.75 38V55"/><text x="5" y="14.5">task_adhoc</text><text class="r" x="95" y="14.5">[table]</text><text x="4" y="33">...</text><text x="4" y="51">&lt; 1</text><text class="r" x="76.75" y="51">0 rows</text></g>
<g id="tool_dataprivacy_request" transform="translate(654 4790)"><rect class="bx" width="165" height="55"/><rect class="hd" x=".7" y=".7" width="163.6" height="20"/><path class="ln" d="M0 21H165M0 38H165M67 38V55M128.5 38V55"/><text x="5" y="14.5">tool_dataprivacy_request</text><text class="r" x="160" y="14.5">[table]</text><text x="4" y="33">...</text><text x="4" y="51">&lt; 4</text><text class="r" x="125.5" y="51">0 rows</text></g>
<g id="badge_criteria_met" transform="translate(1144 4797)"><rect class="bx" width="137" height="55"/><rect class="hd" x=".7" y=".7" width="135.6" height="20"/><path class="ln" d="M0 21H137M0 38H137M53 38V55M107.5 38V55"/><text x="5" y="14.5">badge_criteria_met</text><text class="r" x="132" y="14.5">[table]</text><text x="4" y="33">...</text><text x="4" y="51">&lt; 3</text><text class="r" x="104.5" y="51">0 rows</text></g>
<g id="upgrade_log" transform="translate(684 4866)"><rect class="bx" width="104" height="55"/><rect class="hd" x=".7" y=".7" width="102.6" height="20"/><path class="ln" d="M0 21H104M0 38H104M36.5 38V55M82.75 38V55"/><text x="5" y="14.5">upgrade_log</text><text class="r" x="99" y="14.5">[table]</text><text x="4" y="33">...</text><text x="4" y="51">&lt; 1</text><text class="r" x="79.75" y="51">0 rows</text></g>
<g id="user_devices" transform="translate(683 4942)"><rect class="bx" width="106" height="55"/><rect class="hd" x=".7" y=".7" width="104.6" height="20"/><path class="ln" d="M0 21H106M0 38H106M37.5 38V55M84.25 38V55"/><text x="5" y="14.5">user_devices</text><text class="r" x="101" y="14.5">[table]</text><text x="4" y="33">...</text><text x="4" y="51">&lt; 1</text><text class="r" x="81.25" y="51">0 rows</text><text class="r" x="102" y="51">1 &gt;</text></g>
<g id="user_info_data" transform="translate(679 5017)"><rect class="bx" width="115" height="55"/><rect class="hd" x=".7" y=".7" width="113.6" height="20"/><path class="ln" d="M0 21H115M0 38H115M42 38V55M91 38V55"/><text x="5" y="14.5">user_info_data</text><text class="r" x="110" y="14.5">[table]</text><text x="4" y="33">...</text><text x="4" y="51">&lt; 1</text><text class="r" x="88" y="51">0 rows</text></g>
<g id="user_lastaccess" transform="translate(676 5093)"><rect class="bx" width="120" height="55"/><rect class="hd" x=".7" y=".7" width="118.6" height="20"/><path class="ln" d="M0 21H120M0 38H120M44.5 38V55M94.75 38V55"/><text x="5" y="14.5">user_lastaccess</text><text class="r" x="115" y="14.5">[table]</text><text x="4" y="33">...</text><text x="4" y="51">&lt; 1</text><text class="r" x="91.75" y="51">0 rows</text></g>
<g id="badge_issued" transform="translate(942 5143)"><rect class="bx" width="111" height="55"/><rect class="hd" x=".7" y=".7" width="109.6" height="20"/><path class="ln" d="M0 21H111M0 38H111M40 38V55M88 38V55"/><text x="5" y="14.5">badge_issued</text><text class="r" x="106" y="14.5">[table]</text><text x="4" y="33">...</text><text x="4" y="51">&lt; 2</text><text class="r" x="85" y="51">0 rows</text><text class="r" x="107" y="51">1 &gt;</text></g>
<g id="user_password_history" transform="translate(658 5197)"><rect class="bx" width="156" height="55"/><rect class="hd" x=".7" y=".7" width="154.6" height="20"/><path class="ln" d="M0 21H156M0 38H156M62.5 38V55M121.75 38V55"/><text x="5" y="14.5">user_password_history</text><text class="r" x="151" y="14.5">[table]</text><text x="4" y="33">...</text><text x="4" y="51">&lt; 1</text><text class="r" x="118.75" y="51">0 rows</text></g>
<g id="user_password_resets" transform="translate(660 5273)"><rect class="bx" width="153" height="55"/><rect class="hd" x=".7" y=".7" width="151.6" height="20"/><path class="ln" d="M0 21H153M0 38H153M61 38V55M119.5 38V55"/><text x="5" y="14.5">user_password_resets</text><text class="r" x="148" y="14.5">[table]</text><text x="4" y="33">...</text><text x="4" y="51">&lt; 1</text><text class="r" x="116.5" y="51">0 rows</text></g>
<g id="user_preferences" transform="translate(672 5349)"><rect class="bx" width="128" height="55"/><rect class="hd" x=".7" y=".7" width="126.6" height="20"/><path class="ln" d="M0 21H128M0 38H128M48.5 38V55M100.75 38V55"/><text x="5" y="14.5">user_preferences</text><text class="r" x="123" y="14.5">[table]</text><text x="4" y="33">...</text><text x="4" y="51">&lt; 1</text><text class="r" x="97.75" y="51">0 rows</text></g>
<g id="analytics_prediction_actions" transform="translate(646 5426)"><rect class="bx" width="180" height="55"/><rect class="hd" x=".7" y=".7" width="178.6" height="20"/><path class="ln" d="M0 21H180M0 38H180M74.5 38V55M139.75 38V55"/><text x="5" y="14.5">analytics_prediction_actions</text><text class="r" x="175" y="14.5">[table]</text><text x="4" y="33">...</text><text x="4" y="51">&lt; 2</text><text class="r" x="136.75" y="51">0 rows</text></g>
<g id="assign_user_flags" transform="translate(671 5502)"><rect class="bx" width="131" height="55"/><rect class="hd" x=".7" y=".7" width="129.6" height="20"/><path class="ln" d="M0 21H131M0 38H131M50 38V55M103 38V55"/><text x="5" y="14.5">assign_user_flags</text><text class="r" x="126" y="14.5">[table]</text><text x="4" y="33">...</text><text x="4" y="51">&lt; 2</text><text class="r" x="100" y="51">0 rows</text></g>
<g id="assign_user_mapping" transform="translate(661 5578)"><rect class="bx" width="150" height="55"/><rect class="hd" x=".7" y=".7" width="148.6" height="20"/><path class="ln" d="M0 21H150M0 38H150M59.5 38V55M117.25 38V55"/><text x="5" y="14.5">assign_user_mapping</text><text class="r" x="145" y="14.5">[table]</text><text x="4" y="33">...</text><text x="4" y="51">&lt; 2</text><text class="r" x="114.25" y="51">0 rows</text></g>
<g id="assignfeedback_editpdf_quick" transform="translate(641 5654)"><rect class="bx" width="190" height="55"/><rect class="hd" x=".7" y=".7" width="188.6" height="20"/><path class="ln" d="M0 21H190M0 38H190M79.5 38V55M147.25 38V55"/><text x="5" y="14.5">assignfeedback_editpdf_quick</text><text class="r" x="185" y="14.5">[table]</text><text x="4" y="33">...</text><text x="4" y="51">&lt; 1</text><text class="r" x="144.25" y="51">0 rows</text></g>
<g id="workshop_assessments" transform="translate(917 5708)"><rect class="bx" width="160" height="55"/><rect class="hd" x=".7" y=".7" width="158.6" height="20"/><path class="ln" d="M0 21H160M0 38H160M64.5 38V55M124.75 38V55"/><text x="5" y="14.5">workshop_assessments</text><text class="r" x="155" y="14.5">[table]</text><text x="4" y="33">...</text><text x="4" y="51">&lt; 3</text><text class="r" x="121.75" y="51">0 rows</text><text class="r" x="156" y="51">1 &gt;</text></g>
<g id="auth_oauth2_linked_login" transform="translate(652 5770)"><rect class="bx" width="168" height="55"/><rect class="hd" x=".7" y=".7" width="166.6" height="20"/><path class="ln" d="M0 21H168M0 38H168M68.5 38V55M130.75 38V55"/><text x="5" y="14.5">auth_oauth2_linked_login</text><text class="r" x="163" y="14.5">[table]</text><text x="4" y="33">...</text><text x="4" y="51">&lt; 3</text><text class="r" x="127.75" y="51">0 rows</text></g>
<g id="backup_controllers" transform="translate(669 5846)"><rect class="bx" width="135" height="55"/><rect class="hd" x=".7" y=".7" width="133.6" height="20"/><path class="ln" d="M0 21H135M0 38H135M52 38V55M106 38V55"/><text x="5" y="14.5">backup_controllers</text><text class="r" x="130" y="14.5">[table]</text><text x="4" y="33">...</text><text x="4" y="51">&lt; 1</text><text class="r" x="103" y="51">0 rows</text><text class="r" x="131" y="51">1 &gt;</text></g>
<g id="badge_backpack" transform="translate(673 5922)"><rect class="bx" width="126" height="55"/><rect class="hd" x=".7" y=".7" width="124.6" height="20"/><path class="ln" d="M0 21H126M0 38H126M47.5 38V55M99.25 38V55"/><text x="5" y="14.5">badge_backpack</text><text class="r" x="121" y="14.5">[table]</text><text x="4" y="33">...</text><text x="4" y="51">&lt; 2</text><text class="r" x="96.25" y="51">0 rows</text><text class="r" x="122" y="51">2 &gt;</text></g>
<g id="user_private_key" transform="translate(673 5998)"><rect class="bx" width="126" height="55"/><rect class="hd" x=".7" y=".7" width="124.6" height="20"/><path class="ln" d="M0 21H126M0 38H126M47.5 38V55M99.25 38V55"/><text x="5" y="14.5">user_private_key</text><text class="r" x="121" y="14.5">[table]</text><text x="4" y="33">...</text><text x="4" y="51">&lt; 1</text><text class="r" x="96.25" y="51">0 rows</text></g>
<g id="block_recent_activity" transform="translate(664 6074)"><rect class="bx" width="145" height="55"/><rect class="hd" x=".7" y=".7" width="143.6" height="20"/><path class="ln" d="M0 21H145M0 38H145M57 38V55M113.5 38V55"/><text x="5" y="14.5">block_recent_activity</text><text class="r" x="140" y="14.5">[table]</text><text x="4" y="33">...</text><text x="4" y="51">&lt; 1</text><text class="r" x="110.5" y="51">0 rows</text></g>
<g id="block_rss_client" transform="translate(676 6149)"><rect class="bx" width="121" height="55"/><rect class="hd" x=".7" y=".7" width="119.6" height="20"/><path class="ln" d="M0 21H121M0 38H121M45 38V55M95.5 38V55"/><text x="5" y="14.5">block_rss_client</text><text class="r" x="116" y="14.5">[table]</text><text x="4" y="33">...</text><text x="4" y="51">&lt; 1</text><text class="r" x="92.5" y="51">0 rows</text></g>
<g id="blog_external" transform="translate(682 6225)"><rect class="bx" width="109" height="55"/><rect class="hd" x=".7" y=".7" width="107.6" height="20"/><path class="ln" d="M0 21H109M0 38H109M39 38V55M86.5 38V55"/><text x="5" y="14.5">blog_external</text><text class="r" x="104" y="14.5">[table]</text><text x="4" y="33">...</text><text x="4" y="51">&lt; 1</text><text class="r" x="83.5" y="51">0 rows</text></g>
<g id="cohort_members" transform="translate(674 6301)"><rect class="bx" width="125" height="55"/><rect class="hd" x=".7" y=".7" width="123.6" height="20"/><path class="ln" d="M0 21H125M0 38H125M47 38V55M98.5 38V55"/><text x="5" y="14.5">cohort_members</text><text class="r" x="120" y="14.5">[table]</text><text x="4" y="33">...</text><text x="4" y="51">&lt; 2</text><text class="r" x="95.5" y="51">0 rows</text></g>
<g id="comments" transform="translate(690 6377)"><rect class="bx" width="93" height="55"/><rect class="hd" x=".7" y=".7" width="91.6" height="20"/><path class="ln" d="M0 21H93M0 38H93M31 38V55M74.5 38V55"/><text x="5" y="14.5">comments</text><text class="r" x="88" y="14.5">[table]</text><text x="4" y="33">...</text><text x="4" y="51">&lt; 1</text><text class="r" x="71.5" y="51">0 rows</text></g>
<g id="competency_userevidence" transform="translate(650 6453)"><rect class="bx" width="173" height="55"/><rect class="hd" x=".7" y=".7" width="171.6" height="20"/><path class="ln" d="M0 21H173M0 38H173M71 38V55M134.5 38V55"/><text x="5" y="14.5">competency_userevidence</text><text class="r" x="168" y="14.5">[table]</text><text x="4" y="33">...</text><text x="4" y="51">&lt; 1</text><text class="r" x="131.5" y="51">0 rows</text></g>
<g id="config_log" transform="translate(690 6529)"><rect class="bx" width="93" height="55"/><rect class="hd" x=".7" y=".7" width="91.6" height="20"/><path class="ln" d="M0 21H93M0 38H93M31 38V55M74.5 38V55"/><text x="5" y="14.5">config_log</text><text class="r" x="88" y="14.5">[table]</text><text x="4" y="33">...</text><text x="4" y="51">&lt; 1</text><text class="r" x="71.5" y="51">0 rows</text></g>
<g id="enrol_lti_users" transform="translate(679 6605)"><rect class="bx" width="113" height="55"/><rect class="hd" x=".7" y=".7" width="111.6" height="20"/><path class="ln" d="M0 21H113M0 38H113M41 38V55M89.5 38V55"/><text x="5" y="14.5">enrol_lti_users</text><text class="r" x="108" y="14.5">[table]</text><text x="4" y="33">...</text><text x="4" y="51">&lt; 2</text><text class="r" x="86.5" y="51">0 rows</text></g>
<g id="events_queue" transform="translate(680 6681)"><rect class="bx" width="112" height="55"/><rect class="hd" x=".7" y=".7" width="110.6" height="20"/><path class="ln" d="M0 21H112M0 38H112M40.5 38V55M88.75 38V55"/><text x="5" y="14.5">events_queue</text><text class="r" x="107" y="14.5">[table]</text><text x="4" y="33">...</text><text x="4" y="51">&lt; 1</text><text class="r" x="85.75" y="51">0 rows</text><text class="r" x="108" y="51">1 &gt;</text></g>
<g id="external_services_users" transform="translate(656 6757)"><rect class="bx" width="161" height="55"/><rect class="hd" x=".7" y=".7" width="159.6" height="20"/><path class="ln" d="M0 21H161M0 38H161M65 38V55M125.5 38V55"/><text x="5" y="14.5">external_services_users</text><text class="r" x="156" y="14.5">[table]</text><text x="4" y="33">...</text><text x="4" y="51">&lt; 2</text><text class="r" x="122.5" y="51">0 rows</text></g>
<g id="badge" transform="translate(696 6833)"><rect class="bx" width="80" height="55"/><rect class="hd" x=".7" y=".7" width="78.6" height="20"/><path class="ln" d="M0 21H80M0 38H80M24.5 38V55M64.75 38V55"/><text x="5" y="14.5">badge</text><text class="r" x="75" y="14.5">[table]</text><text x="4" y="33">...</text><text x="4" y="51">&lt; 3</text><text class="r" x="61.75" y="51">0 rows</text><text class="r" x="76" y="51">7 &gt;</text></g>
<g id="workshop_submissions" transform="translate(658 6910)"><rect class="bx" width="156" height="55"/><rect class="hd" x=".7" y=".7" width="154.6" height="20"/><path class="ln" d="M0 21H156M0 38H156M62.5 38V55M121.75 38V55"/><text x="5" y="14.5">workshop_submissions</text><text class="r" x="151" y="14.5">[table]</text><text x="4" y="33">...</text><text x="4" y="51">&lt; 3</text><text class="r" x="118.75" y="51">0 rows</text><text class="r" x="152" y="51">1 &gt;</text></g>
<g id="badge_manual_award" transform="translate(922 6965)"><rect class="bx" width="151" height="55"/><rect class="hd" x=".7" y=".7" width="149.6" height="20"/><path class="ln" d="M0 21H151M0 38H151M60 38V55M118 38V55"/><text x="5" y="14.5">badge_manual_award</text><text class="r" x="146" y="14.5">[table]</text><text x="4" y="33">...</text><text x="4" y="51">&lt; 4</text><text class="r" x="115" y="51">0 rows</text></g>
<g id="workshop_aggregations" transform="translate(657 7025)"><rect class="bx" width="159" height="55"/><rect class="hd" x=".7" y=".7" width="157.6" height="20"/><path class="ln" d="M0 21H159M0 38H159M64 38V55M124 38V55"/><text x="5" y="14.5">workshop_aggregations</text><text class="r" x="154" y="14.5">[table]</text><text x="4" y="33">...</text><text x="4" y="51">&lt; 2</text><text class="r" x="121" y="51">0 rows</text></g>
<g id="user_enrolments" transform="translate(674 7102)"><rect class="bx" width="125" height="55"/><rect class="hd" x=".7" y=".7" width="123.6" height="20"/><path class="ln" d="M0 21H125M0 38H125M47 38V55M98.5 38V55"/><text x="5" y="14.5">user_enrolments</text><text class="r" x="120" y="14.5">[table]</text><text x="4" y="33">...</text><text x="4" y="51">&lt; 3</text><text class="r" x="95.5" y="51">0 rows</text></g>
<g id="mnet_sso_access_control" transform="translate(651 7177)"><rect class="bx" width="170" height="55"/><rect class="hd" x=".7" y=".7" width="168.6" height="20"/><path class="ln" d="M0 21H170M0 38H170M69.5 38V55M132.25 38V55"/><text x="5" y="14.5">mnet_sso_access_control</text><text class="r" x="165" y="14.5">[table]</text><text x="4" y="33">...</text><text x="4" y="51">&lt; 1</text><text class="r" x="129.25" y="51">0 rows</text></g>
<g id="enrol_paypal" transform="translate(684 7253)"><rect class="bx" width="105" height="55"/><rect class="hd" x=".7" y=".7" width="103.6" height="20"/><path class="ln" d="M0 21H105M0 38H105M37 38V55M83.5 38V55"/><text x="5" y="14.5">enrol_paypal</text><text class="r" x="100" y="14.5">[table]</text><text x="4" y="33">...</text><text x="4" y="51">&lt; 3</text><text class="r" x="80.5" y="51">0 rows</text></g>
<g id="scale_history" transform="translate(683 7329)"><rect class="bx" width="107" height="55"/><rect class="hd" x=".7" y=".7" width="105.6" height="20"/><path class="ln" d="M0 21H107M0 38H107M38 38V55M85 38V55"/><text x="5" y="14.5">scale_history</text><text class="r" x="102" y="14.5">[table]</text><text x="4" y="33">...</text><text x="4" y="51">&lt; 3</text><text class="r" x="82" y="51">0 rows</text></g>

<g id="user" transform="translate(406 4145)"><rect class="bx" width="125" height="429"/><rect class="hd" x=".7" y=".7" width="123.6" height="20"/><path class="ln" d="M0 21H125M0 43H125M0 65H125M0 87H125M0 109H125M0 131H125M0 153H125M0 175H125M0 197H125M0 219H125M0 241H125M0 263H125M0 285H125M0 307H125M0 329H125M0 351H125M0 373H125M0 395H125M0 412H125M32 412V429M80 412V429"/><text x="5" y="14.5">user</text><text class="r" x="119" y="14.5">[table]</text>
<use href="#kp" x="10" y="31"/><use href="#kp" x="10" y="141"/>
<text x="20" y="36">id</text><text x="20" y="58">auth</text><text x="20" y="80">confirmed</text><text x="20" y="102">deleted</text><text x="20" y="124">mnethostid</text><text x="20" y="146">username</text><text x="20" y="168">idnumber</text><text x="20" y="190">firstname</text><text x="20" y="212">lastname</text><text x="20" y="234">email</text><text x="20" y="256">city</text><text x="20" y="278">country</text><text x="20" y="300">lastaccess</text><text x="20" y="322">lastnamephonetic</text><text x="20" y="344">firstnamephonetic</text><text x="20" y="366">middlename</text><text x="20" y="388">alternatename</text><text x="4" y="407">...</text>
<text class="r" x="77" y="424">0 rows</text><text class="r" x="121" y="424">109 &gt;</text></g>

<g id="workshop" transform="translate(423 4623)"><rect class="bx" width="90" height="55"/><rect class="hd" x=".7" y=".7" width="88.6" height="20"/><path class="ln" d="M0 21H90M0 38H90M29.5 38V55M72.25 38V55"/><text x="5" y="14.5">workshop</text><text class="r" x="85" y="14.5">[table]</text><text x="4" y="33">...</text><text x="4" y="51">&lt; 1</text><text class="r" x="69.25" y="51">0 rows</text><text class="r" x="86" y="51">10 &gt;</text></g>
<g id="enrol" transform="translate(428 4699)"><rect class="bx" width="81" height="55"/><rect class="hd" x=".7" y=".7" width="79.6" height="20"/><path class="ln" d="M0 21H81M0 38H81M25 38V55M65.5 38V55"/><text x="5" y="14.5">enrol</text><text class="r" x="76" y="14.5">[table]</text><text x="4" y="33">...</text><text x="4" y="51">&lt; 1</text><text class="r" x="63" y="51">0 rows</text><text class="r" x="77" y="51">3 &gt;</text></g>
<g id="grade_settings" transform="translate(411 4803)"><rect class="bx" width="115" height="55"/><rect class="hd" x=".7" y=".7" width="113.6" height="20"/><path class="ln" d="M0 21H115M0 38H115M42 38V55M91 38V55"/><text x="5" y="14.5">grade_settings</text><text class="r" x="110" y="14.5">[table]</text><text x="4" y="33">...</text><text x="4" y="51">&lt; 1</text><text class="r" x="88" y="51">0 rows</text></g>
<g id="imscp" transform="translate(433 4879)"><rect class="bx" width="71" height="55"/><rect class="hd" x=".7" y=".7" width="69.6" height="20"/><path class="ln" d="M0 21H71M0 38H71M20 38V55M58 38V55"/><text x="5" y="14.5">imscp</text><text class="r" x="66" y="14.5">[table]</text><text x="4" y="33">...</text><text x="4" y="51">&lt; 1</text><text class="r" x="56" y="51">0 rows</text></g>
<g id="label" transform="translate(433 4954)"><rect class="bx" width="71" height="55"/><rect class="hd" x=".7" y=".7" width="69.6" height="20"/><path class="ln" d="M0 21H71M0 38H71M20 38V55M58 38V55"/><text x="5" y="14.5">label</text><text class="r" x="66" y="14.5">[table]</text><text x="4" y="33">...</text><text x="4" y="51">&lt; 1</text><text class="r" x="56" y="51">0 rows</text></g>
<g id="lti_tool_settings" transform="translate(409 5030)"><rect class="bx" width="118" height="55"/><rect class="hd" x=".7" y=".7" width="116.6" height="20"/><path class="ln" d="M0 21H118M0 38H118M43.5 38V55M93.25 38V55"/><text x="5" y="14.5">lti_tool_settings</text><text class="r" x="113" y="14.5">[table]</text><text x="4" y="33">...</text><text x="4" y="51">&lt; 4</text><text class="r" x="90.25" y="51">0 rows</text></g>
<g id="page" transform="translate(433 5106)"><rect class="bx" width="71" height="55"/><rect class="hd" x=".7" y=".7" width="69.6" height="20"/><path class="ln" d="M0 21H71M0 38H71M20 38V55M58 38V55"/><text x="5" y="14.5">page</text><text class="r" x="66" y="14.5">[table]</text><text x="4" y="33">...</text><text x="4" y="51">&lt; 1</text><text class="r" x="56" y="51">0 rows</text></g>
<g id="resource" transform="translate(426 5182)"><rect class="bx" width="85" height="55"/><rect class="hd" x=".7" y=".7" width="83.6" height="20"/><path class="ln" d="M0 21H85M0 38H85M27 38V55M68.5 38V55"/><text x="5" y="14.5">resource</text><text class="r" x="80" y="14.5">[table]</text><text x="4" y="33">...</text><text x="4" y="51">&lt; 1</text><text class="r" x="65.5" y="51">0 rows</text></g>
<g id="resource_old" transform="translate(415 5259)"><rect class="bx" width="106" height="55"/><rect class="hd" x=".7" y=".7" width="104.6" height="20"/><path class="ln" d="M0 21H106M0 38H106M37.5 38V55M84.25 38V55"/><text x="5" y="14.5">resource_old</text><text class="r" x="101" y="14.5">[table]</text><text x="4" y="33">...</text><text x="4" y="51">&lt; 1</text><text class="r" x="81.25" y="51">0 rows</text></g>
<g id="stats_daily" transform="translate(421 5362)"><rect class="bx" width="94" height="55"/><rect class="hd" x=".7" y=".7" width="92.6" height="20"/><path class="ln" d="M0 21H94M0 38H94M31.5 38V55M75.25 38V55"/><text x="5" y="14.5">stats_daily</text><text class="r" x="89" y="14.5">[table]</text><text x="4" y="33">...</text><text x="4" y="51">&lt; 1</text><text class="r" x="72.25" y="51">0 rows</text></g>
<g id="stats_monthly" transform="translate(413 5438)"><rect class="bx" width="110" height="55"/><rect class="hd" x=".7" y=".7" width="108.6" height="20"/><path class="ln" d="M0 21H110M0 38H110M39.5 38V55M87.25 38V55"/><text x="5" y="14.5">stats_monthly</text><text class="r" x="105" y="14.5">[table]</text><text x="4" y="33">...</text><text x="4" y="51">&lt; 1</text><text class="r" x="84.25" y="51">0 rows</text></g>

<text x="12" y="7414">Generated by SchemaSpy</text>
</g>
</svg>
